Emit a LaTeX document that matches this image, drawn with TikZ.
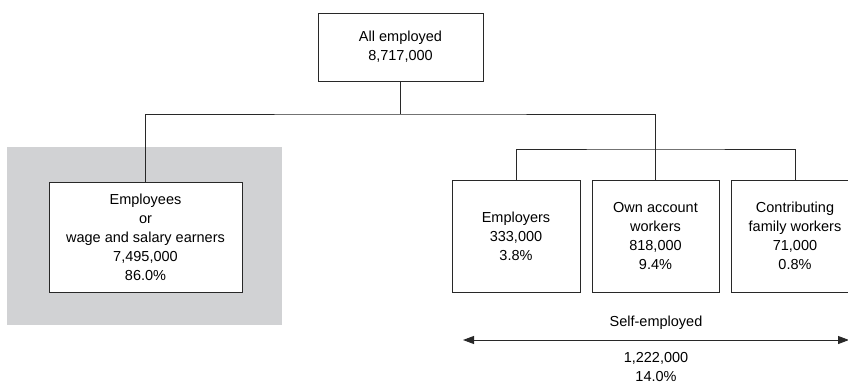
\documentclass[tikz,border=0pt]{standalone}
\usepackage{fontspec}
\setmainfont{Liberation Sans}
\usetikzlibrary{arrows.meta}
\definecolor{panelgray}{RGB}{209,210,212}
\definecolor{linegray}{RGB}{40,40,40}
\tikzset{
	txt/.style={font=\fontsize{14.5}{19}\selectfont, align=center, inner sep=0pt},
	catbox/.style={txt, draw=linegray, line width=0.9pt, fill=white, minimum width=127, minimum height=112},
	link/.style={draw=linegray, line width=0.9pt}
}
\begin{document}
\begin{tikzpicture}[x=1pt,y=-1pt]
	\useasboundingbox (0,0) rectangle (848,385);
	\clip (0,0) rectangle (848,385);
	\fill [panelgray] (7,147) rectangle (282,325);
	\node [catbox, minimum width=165, minimum height=68] (all) at (400.5,47) {All employed\\8,717,000};
	\node [catbox, minimum width=193, minimum height=110] (employees) at (145.5,237) {Employees\\or\\wage and salary earners\\7,495,000\\86.0\%};
	\node [catbox, minimum width=128] (employers) at (516,236) {Employers\\333,000\\3.8\%};
	\node [catbox] (own) at (655.5,236) {Own account\\workers\\818,000\\9.4\%};
	\node [catbox] (family) at (795,236) {Contributing\\family workers\\71,000\\0.8\%};
	\coordinate (bus) at (400.5,114);
	\coordinate (subbus) at (655.5,149);
	\draw [link] (all.south) -- (bus);
	\draw [link] (employees.north) |- (bus) -| (own.north);
	\draw [link] (employers.north) |- (subbus) -| (family.north);
	\coordinate (selfL) at (463,340);
	\coordinate (selfR) at (849,340);
	\draw [link, {Triangle[length=11pt,width=8pt]}-{Triangle[length=11pt,width=8pt]}] (selfL) -- (selfR);
	\node [txt] (selflabel) at (656,323) {Self-employed};
	\node [txt] (selftotal) at (656,367) {1,222,000\\14.0\%};
\end{tikzpicture}
\end{document}
